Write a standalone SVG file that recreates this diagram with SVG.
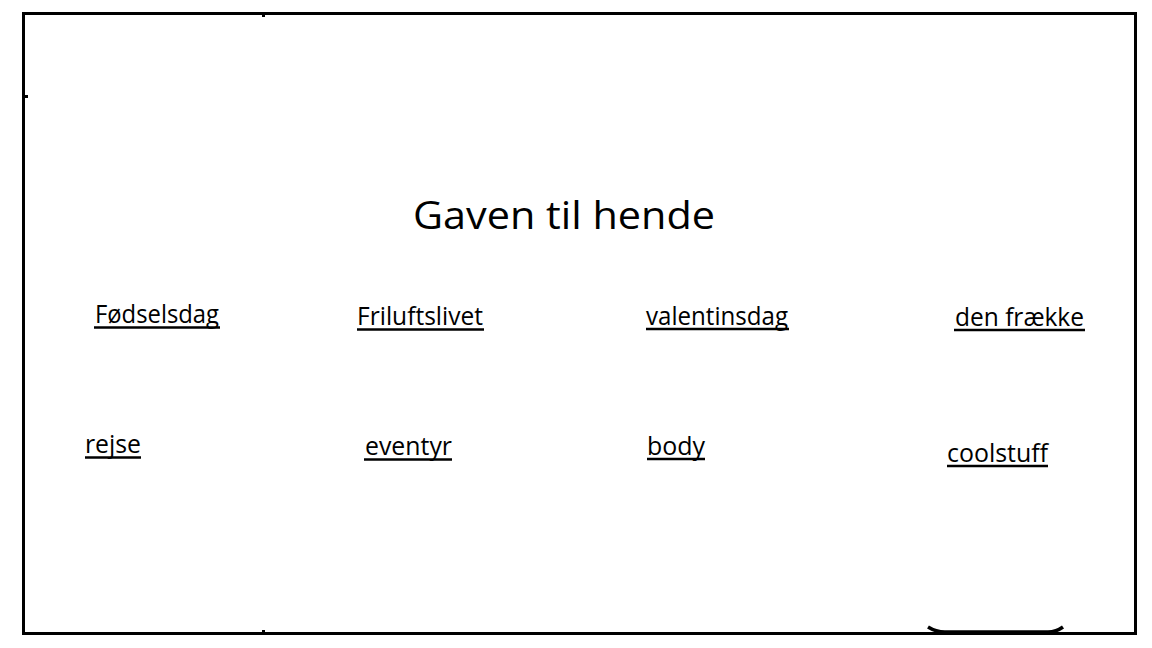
<svg xmlns="http://www.w3.org/2000/svg" width="1152" height="648" viewBox="0 0 1152 648">
<style>
.lbl{font-family:"Open Sans","Noto Sans","Liberation Sans",sans-serif;font-size:26px;fill:#000}
.title{font-family:"Open Sans","Noto Sans","Liberation Sans",sans-serif;font-size:39px;fill:#000}
.ul{stroke:#000;stroke-width:2.5}
.frame{fill:none;stroke:#000;stroke-width:3}
</style>
<rect width="1152" height="648" fill="#fff"/>
<g id="frame">
<rect class="frame" x="23.5" y="13.5" width="1112" height="620"/>
<rect x="262" y="13" width="3" height="4" fill="#000"/>
<rect x="25" y="95" width="3" height="3" fill="#000"/>
<rect x="262" y="630" width="3" height="4" fill="#000"/>
<path d="M928,627 Q936,632 945,632 L1048,632 Q1056,632 1063,627" fill="none" stroke="#000" stroke-width="3.5"/>
</g>
<g id="title"><text class="title" x="413" y="229" textLength="302" lengthAdjust="spacingAndGlyphs">Gaven til hende</text></g>
<g id="n-fodselsdag"><text class="lbl" x="95" y="323" textLength="124" lengthAdjust="spacingAndGlyphs">Fødselsdag</text><line class="ul" x1="94" y1="327.5" x2="220" y2="327.5"/></g>
<g id="n-friluftslivet"><text class="lbl" x="357" y="325" textLength="126" lengthAdjust="spacingAndGlyphs">Friluftslivet</text><line class="ul" x1="357" y1="329.5" x2="484" y2="329.5"/></g>
<g id="n-valentinsdag"><text class="lbl" x="646" y="325" textLength="142" lengthAdjust="spacingAndGlyphs">valentinsdag</text><line class="ul" x1="646" y1="329" x2="789" y2="329"/></g>
<g id="n-denfraekke"><text class="lbl" x="955" y="326" textLength="129" lengthAdjust="spacingAndGlyphs">den frække</text><line class="ul" x1="954" y1="330" x2="1085" y2="330"/></g>
<g id="n-rejse"><text class="lbl" x="85" y="453" textLength="56" lengthAdjust="spacingAndGlyphs">rejse</text><line class="ul" x1="85" y1="457.5" x2="141" y2="457.5"/></g>
<g id="n-eventyr"><text class="lbl" x="365" y="455" textLength="87" lengthAdjust="spacingAndGlyphs">eventyr</text><line class="ul" x1="364" y1="459.5" x2="452" y2="459.5"/></g>
<g id="n-body"><text class="lbl" x="647" y="455" textLength="58" lengthAdjust="spacingAndGlyphs">body</text><line class="ul" x1="647" y1="459" x2="705" y2="459"/></g>
<g id="n-coolstuff"><text class="lbl" x="947" y="462" textLength="101" lengthAdjust="spacingAndGlyphs">coolstuff</text><line class="ul" x1="947" y1="466" x2="1048" y2="466"/></g>
<g id="connectors"></g>
</svg>
